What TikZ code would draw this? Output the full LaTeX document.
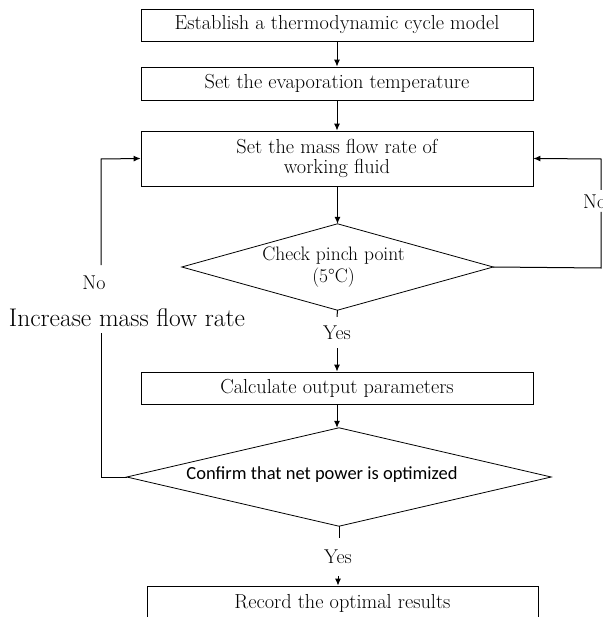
\documentclass[tikz,border=0pt]{standalone}
\usepackage{fontspec}
\newfontfamily\calibrifont{Carlito}
\usetikzlibrary{arrows.meta}
\begin{document}
\begin{tikzpicture}[x=1pt,y=-1pt,
  boxnode/.style={draw,line width=0.8pt,minimum width=392pt,inner sep=0pt,align=center,font=\fontsize{20.3}{20.5}\selectfont},
  dia/.style={inner sep=0pt,align=center,font=\fontsize{19.5}{22}\selectfont},
  diaedge/.style={line width=0.8pt},
  lbl/.style={inner sep=0pt,font=\fontsize{20}{22}\selectfont},
  conn/.style={line width=1pt},
  arr/.style={line width=1pt,-{Latex[length=7pt,width=6pt]}}
]
\useasboundingbox (0,0) rectangle (602,617);
\clip (0,0) rectangle (602,617);
\node[boxnode,minimum height=32pt] (b1) at (337,25) {Establish a thermodynamic cycle model};
\node[boxnode,minimum height=33pt] (b2) at (337,83.5) {Set the evaporation temperature};
\node[boxnode,minimum height=55pt] (b3) at (337,158.5) {Set the mass flow rate of\\working fluid};
\node[dia,minimum width=311pt,minimum height=86pt] (d1) at (337.5,267) {Check pinch point\hspace*{8pt}\\(5°C)\hspace*{8pt}};
\draw[diaedge] (d1.north) -- (d1.east) -- (d1.south) -- (d1.west) -- cycle;
\node[lbl,minimum height=31pt] (y1) at (337,332.5) {Yes};
\node[boxnode,minimum height=32pt] (b4) at (337,388) {Calculate output parameters};
\node[dia,minimum width=424pt,minimum height=98pt] (d2) at (339,477) {};
\node[dia,font=\calibrifont\fontsize{18.5}{20}\selectfont] (d2t) at (322,475) {Confirm that net power is optimized};
\draw[diaedge] (d2.north) -- (d2.east) -- (d2.south) -- (d2.west) -- cycle;
\node[lbl,minimum height=38pt] (y2) at (338,557) {Yes};
\node[boxnode,minimum width=391pt,minimum height=34pt] (b5) at (342.5,603) {Record the optimal results};
\node[lbl] (no1) at (94,283) {No};
\node[lbl,font=\fontsize{25.5}{27}\selectfont] (inc) at (127,318) {Increase mass flow rate};
\node[lbl,anchor=west] (no2) at (583,202) {No};
\coordinate (L1) at (101,477);
\coordinate (L2) at (101,333);
\coordinate (L3) at (101,265);
\coordinate (L4) at (101,159);
\coordinate (R1) at (601,268);
\coordinate (R2) at (601,212);
\coordinate (R3) at (601,190);
\coordinate (R4) at (601,159);
\draw[arr] (b1) -- (b2);
\draw[arr] (b2) -- (b3);
\draw[arr] (b3.south -| d1.north) -- (d1.north);
\draw[conn] (d1.south) -- (y1.north);
\draw[arr] (y1.south) -- (b4.north);
\draw[arr] (b4.south) -- (b4.south |- d2.north);
\draw[conn] (d2.south) -- (y2.north -| d2.south);
\draw[arr] (y2.south) -- (b5.north -| y2.south);
\draw[conn] (d2.west) -- (L1) -- (L2);
\draw[arr] (L3) -- (L4) -- (b3.west);
\draw[conn] (d1.east) -- (R1) -- (R2);
\draw[arr] (R3) -- (R4) -- (b3.east);
\end{tikzpicture}
\end{document}
